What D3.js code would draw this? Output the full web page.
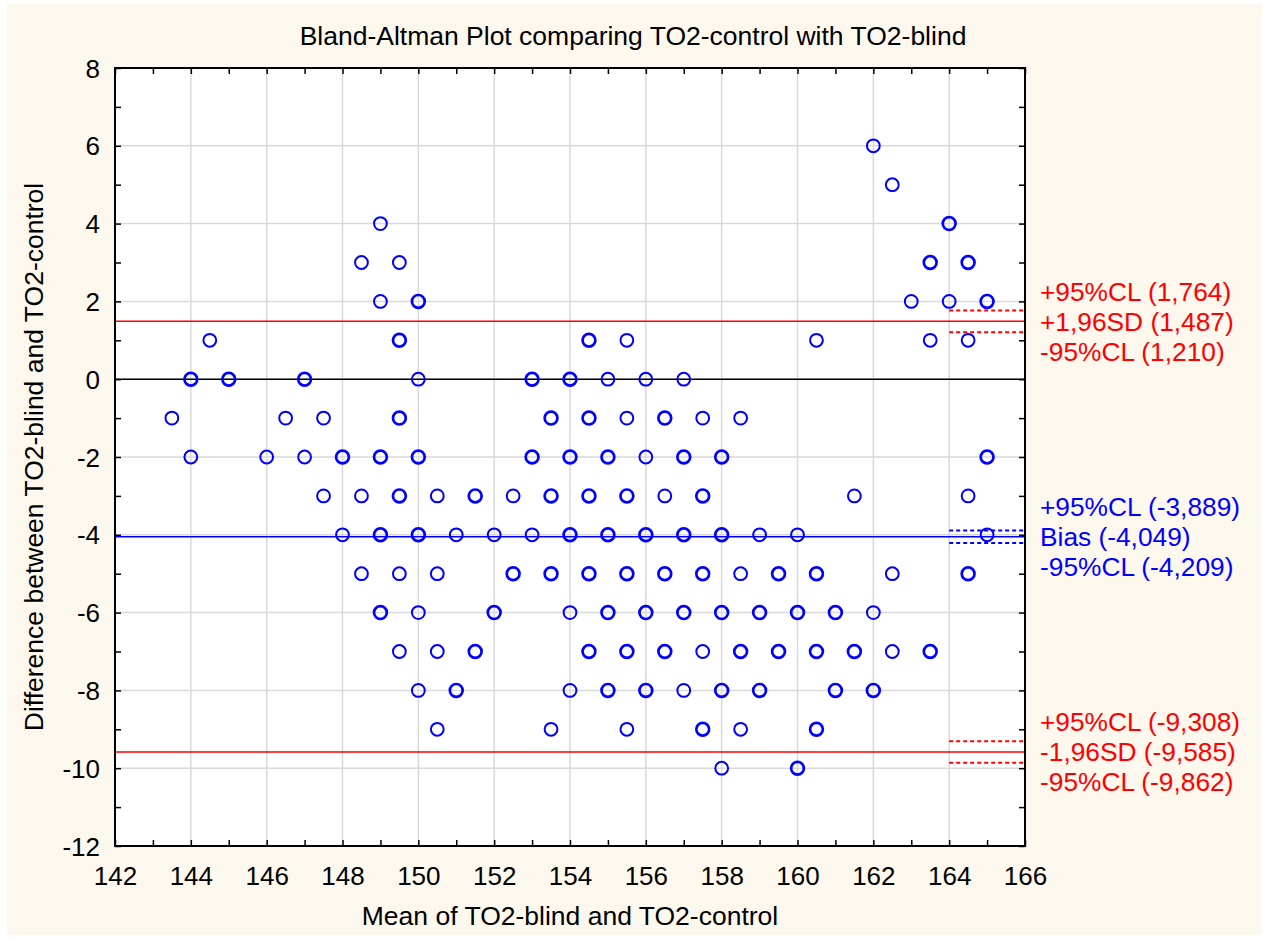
<!DOCTYPE html>
<html>
<head>
    <title>Bland-Altman TO2</title>
    <style type="text/css">
        body { margin: 0; background: #fff; }
        svg text { font-family: Arial, "Liberation Sans", sans-serif; }
    </style>
</head>
<body>
<script src="https://d3js.org/d3.v7.min.js" type="text/javascript"></script>
<script type="text/javascript">

    // mean, difference, multiplicity (1 = single point, 2 = overlapping points)
    var points = [
        [162, 6, 1],
        [162.5, 5, 1],
        [149, 4, 1], [164, 4, 2],
        [148.5, 3, 1], [149.5, 3, 1], [163.5, 3, 2], [164.5, 3, 2],
        [149, 2, 1], [150, 2, 2], [163, 2, 1], [164, 2, 1], [165, 2, 2],
        [144.5, 1, 1], [149.5, 1, 2], [154.5, 1, 2], [155.5, 1, 1], [160.5, 1, 1], [163.5, 1, 1], [164.5, 1, 1],
        [144, 0, 2], [145, 0, 2], [147, 0, 2], [150, 0, 1], [153, 0, 2], [154, 0, 2], [155, 0, 1], [156, 0, 1], [157, 0, 1],
        [143.5, -1, 1], [146.5, -1, 1], [147.5, -1, 1], [149.5, -1, 2], [153.5, -1, 2], [154.5, -1, 2], [155.5, -1, 1],
        [156.5, -1, 2], [157.5, -1, 1], [158.5, -1, 1],
        [144, -2, 1], [146, -2, 1], [147, -2, 1], [148, -2, 2], [149, -2, 2], [150, -2, 2], [153, -2, 2], [154, -2, 2],
        [155, -2, 2], [156, -2, 1], [157, -2, 2], [158, -2, 2], [165, -2, 2],
        [147.5, -3, 1], [148.5, -3, 1], [149.5, -3, 2], [150.5, -3, 1], [151.5, -3, 2], [152.5, -3, 1], [153.5, -3, 2],
        [154.5, -3, 2], [155.5, -3, 2], [156.5, -3, 1], [157.5, -3, 2], [161.5, -3, 1], [164.5, -3, 1],
        [148, -4, 1], [149, -4, 2], [150, -4, 2], [151, -4, 1], [152, -4, 1], [153, -4, 1], [154, -4, 2], [155, -4, 2],
        [156, -4, 2], [157, -4, 2], [158, -4, 2], [159, -4, 1], [160, -4, 1], [165, -4, 1],
        [148.5, -5, 1], [149.5, -5, 1], [150.5, -5, 1], [152.5, -5, 2], [153.5, -5, 2], [154.5, -5, 2], [155.5, -5, 2],
        [156.5, -5, 2], [157.5, -5, 2], [158.5, -5, 1], [159.5, -5, 2], [160.5, -5, 2], [162.5, -5, 1], [164.5, -5, 2],
        [149, -6, 2], [150, -6, 1], [152, -6, 2], [154, -6, 1], [155, -6, 2], [156, -6, 2], [157, -6, 2], [158, -6, 2],
        [159, -6, 2], [160, -6, 2], [161, -6, 2], [162, -6, 1],
        [149.5, -7, 1], [150.5, -7, 1], [151.5, -7, 2], [154.5, -7, 2], [155.5, -7, 2], [156.5, -7, 2], [157.5, -7, 1],
        [158.5, -7, 2], [159.5, -7, 2], [160.5, -7, 2], [161.5, -7, 2], [162.5, -7, 1], [163.5, -7, 2],
        [150, -8, 1], [151, -8, 2], [154, -8, 1], [155, -8, 2], [156, -8, 2], [157, -8, 1], [158, -8, 2], [159, -8, 2],
        [161, -8, 2], [162, -8, 2],
        [150.5, -9, 1], [153.5, -9, 1], [155.5, -9, 1], [157.5, -9, 2], [158.5, -9, 1], [160.5, -9, 2],
        [158, -10, 1], [160, -10, 2]
    ];

    // limit lines: value, label, colour, solid or dotted
    var limitValues = [1.764, 1.487, 1.210, -3.889, -4.049, -4.209, -9.308, -9.585, -9.862];
    var limitLabels = ['+95%CL (1,764)', '+1,96SD (1,487)', '-95%CL (1,210)',
                       '+95%CL (-3,889)', 'Bias (-4,049)', '-95%CL (-4,209)',
                       '+95%CL (-9,308)', '-1,96SD (-9,585)', '-95%CL (-9,862)'];
    var limitColors = ['red', 'red', 'red', 'blue', 'blue', 'blue', 'red', 'red', 'red'];
    var limitSolid = [false, true, false, false, true, false, false, true, false];

    var xTicks = d3.range(142, 167, 2);
    var yTicks = d3.range(-12, 9, 2);

    var W = 1267, H = 940;
    var pL = 115, pR = 1025, pT = 68, pB = 846;

    var svg = d3.select('body').append('svg')
        .attr('width', W)
        .attr('height', H);

    svg.append('rect').attr('x', 0).attr('y', 0).attr('width', W).attr('height', H).attr('fill', '#fff');
    svg.append('rect').attr('x', 7).attr('y', 4).attr('width', W - 12).attr('height', H - 9).attr('fill', '#fdf8ee');

    var x = d3.scaleLinear().domain([142, 166]).range([pL, pR]);
    var y = d3.scaleLinear().domain([-12, 8]).range([pB, pT]);

    svg.append('rect')
        .attr('x', pL).attr('y', pT)
        .attr('width', pR - pL).attr('height', pB - pT)
        .attr('fill', '#fff');

    // grid
    var grid = svg.append('g').attr('stroke', '#d9d9d9').attr('stroke-width', 1.5);
    grid.selectAll('line.gx').data(xTicks.slice(1, -1)).enter().append('line')
        .attr('x1', d => x(d)).attr('x2', d => x(d)).attr('y1', pT).attr('y2', pB);
    grid.selectAll('line.gy').data(yTicks.slice(1, -1)).enter().append('line')
        .attr('y1', d => y(d)).attr('y2', d => y(d)).attr('x1', pL).attr('x2', pR);

    // zero line
    svg.append('line')
        .attr('x1', pL).attr('x2', pR).attr('y1', y(0)).attr('y2', y(0))
        .attr('stroke', '#000').attr('stroke-width', 1.5);

    // limit lines
    limitValues.forEach(function (v, i) {
        var solid = limitSolid[i];
        svg.append('line')
            .attr('x1', solid ? pL : x(164)).attr('x2', pR)
            .attr('y1', y(v)).attr('y2', y(v))
            .attr('stroke', limitColors[i])
            .attr('stroke-width', solid ? 1.5 : 2)
            .attr('stroke-dasharray', solid ? null : '4,3');
    });

    // points
    svg.append('g').selectAll('circle').data(points).enter().append('circle')
        .attr('cx', d => x(d[0]))
        .attr('cy', d => y(d[1]))
        .attr('r', 6.4)
        .attr('fill', 'none')
        .attr('stroke', '#0000ff')
        .attr('stroke-width', d => d[2] > 1 ? 2.7 : 2);

    // axes (ticks point inward)
    var axB = svg.append('g').attr('transform', 'translate(0,' + pB + ')')
        .call(d3.axisBottom(x).tickValues(d3.range(142, 167, 1)).tickSize(-6).tickFormat(d => d % 2 === 0 ? d : ''));
    var axT = svg.append('g').attr('transform', 'translate(0,' + pT + ')')
        .call(d3.axisTop(x).tickValues(d3.range(142, 167, 1)).tickSize(-6).tickFormat(''));
    var axL = svg.append('g').attr('transform', 'translate(' + pL + ',0)')
        .call(d3.axisLeft(y).tickValues(d3.range(-12, 9, 1)).tickSize(-6).tickFormat(d => d % 2 === 0 ? d : ''));
    var axR = svg.append('g').attr('transform', 'translate(' + pR + ',0)')
        .call(d3.axisRight(y).tickValues(d3.range(-12, 9, 1)).tickSize(-6).tickFormat(''));

    [axB, axT, axL, axR].forEach(function (a) {
        a.select('.domain').remove();
        a.selectAll('line').attr('stroke', '#000').attr('stroke-width', 1.5);
        a.selectAll('text').attr('font-size', '26px').attr('fill', '#000')
            .attr('font-family', 'Arial, "Liberation Sans", sans-serif');
    });
    axB.selectAll('text').attr('y', 21).attr('dy', '0.71em');
    axL.selectAll('text').attr('x', -15).attr('dy', '0.35em');

    svg.append('rect')
        .attr('x', pL).attr('y', pT)
        .attr('width', pR - pL).attr('height', pB - pT)
        .attr('fill', 'none').attr('stroke', '#000').attr('stroke-width', 2);

    // labels at right
    svg.append('g').selectAll('text').data(limitValues).enter().append('text')
        .attr('x', 1040)
        .attr('y', function (d, i) { return y(limitValues[i - (i % 3) + 1]) + ((i % 3) - 1) * 30; })
        .attr('dy', '0.35em')
        .attr('font-size', '26.3px')
        .attr('fill', (d, i) => limitColors[i])
        .text((d, i) => limitLabels[i]);

    // title and axis titles
    svg.append('text')
        .attr('x', 633).attr('y', 45)
        .attr('text-anchor', 'middle')
        .attr('font-size', '26.5px')
        .text('Bland-Altman Plot comparing TO2-control with TO2-blind');

    svg.append('text')
        .attr('x', (pL + pR) / 2).attr('y', 925)
        .attr('text-anchor', 'middle')
        .attr('font-size', '26.5px')
        .text('Mean of TO2-blind and TO2-control');

    svg.append('text')
        .attr('transform', 'translate(43,' + ((pT + pB) / 2) + ') rotate(-90)')
        .attr('text-anchor', 'middle')
        .attr('font-size', '26.5px')
        .text('Difference between TO2-blind and TO2-control');

</script>
</body>
</html>
